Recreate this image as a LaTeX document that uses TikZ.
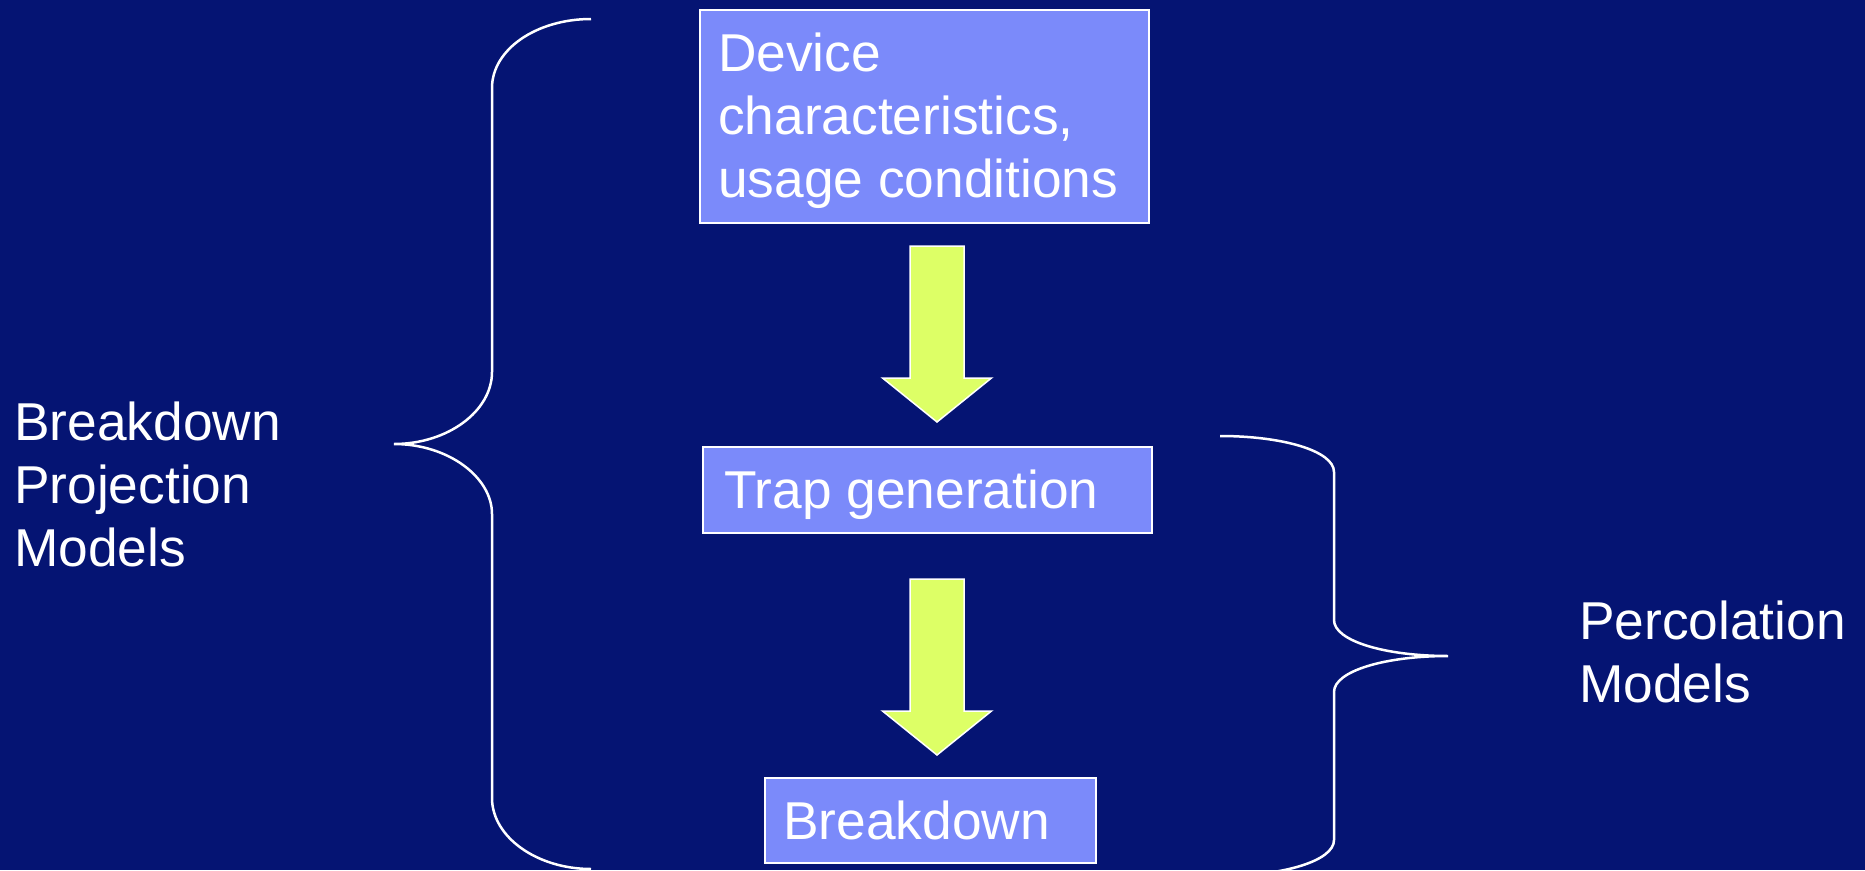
\documentclass[tikz,border=0pt]{standalone}
\usepackage{fontspec}
\setmainfont{Liberation Sans}
\definecolor{bgnavy}{RGB}{5,20,115}
\definecolor{boxblue}{RGB}{123,138,250}
\definecolor{arrowlime}{RGB}{221,255,102}
\tikzset{
  stepbox/.style={draw=white, line width=2pt, fill=boxblue, rectangle, inner sep=0pt, anchor=north west},
  lbl/.style={text=white, anchor=base west, inner sep=0pt, align=left,
    font=\fontsize{53.3}{63}\selectfont},
  bracepath/.style={draw=white, line width=2.5pt},
  downarrow/.pic={
    \draw[draw=white, line width=1.5pt, fill=arrowlime, line join=miter]
      (-27,0) -- (27,0) -- (27,132) -- (54.5,132) -- (0,176) -- (-54.5,132) -- (-27,132) -- cycle;
  }
}
\begin{document}
\begin{tikzpicture}[x=1pt, y=-1pt]
\useasboundingbox (0,0) rectangle (1865,870);
\fill[bgnavy] (0,0) rectangle (1865,870);
\begin{scope}
\clip (0,0) rectangle (1865,870);

% boxes
\node[stepbox, minimum width=449pt, minimum height=213pt] (dev) at (699,9) {};
\node[stepbox, minimum width=449pt, minimum height=86pt] (trap) at (702,446) {};
\node[stepbox, minimum width=331pt, minimum height=85pt] (bd) at (764,777) {};

% texts (anchor = baseline of last line)
\node[lbl] (devtxt) at (718,197) {Device\\characteristics,\\usage conditions};
\node[lbl] (traptxt) at (724,508) {Trap generation};
\node[lbl] (bdtxt) at (783,839) {Breakdown};
\node[lbl] (bpm) at (14,566) {Breakdown\\Projection\\Models};
\node[lbl] (perc) at (1579,702) {Percolation\\Models};

% block arrows
\pic at (937,246) {downarrow};
\pic at (937,579) {downarrow};

% left brace
\draw[bracepath] (591,19) .. controls (537,19) and (492,49) .. (492,88)
  -- (492,372) .. controls (492,411) and (448,444) .. (394,444)
  .. controls (448,444) and (492,477) .. (492,514)
  -- (492,798) .. controls (492,837) and (537,869) .. (591,869);

% right brace
\draw[bracepath] (1220,436) .. controls (1283,436) and (1334,451) .. (1334,472)
  -- (1334,620) .. controls (1334,641) and (1385,656) .. (1448,656)
  .. controls (1385,656) and (1334,671) .. (1334,692)
  -- (1334,840) .. controls (1334,861) and (1283,876) .. (1220,876);
\end{scope}
\end{tikzpicture}
\end{document}
